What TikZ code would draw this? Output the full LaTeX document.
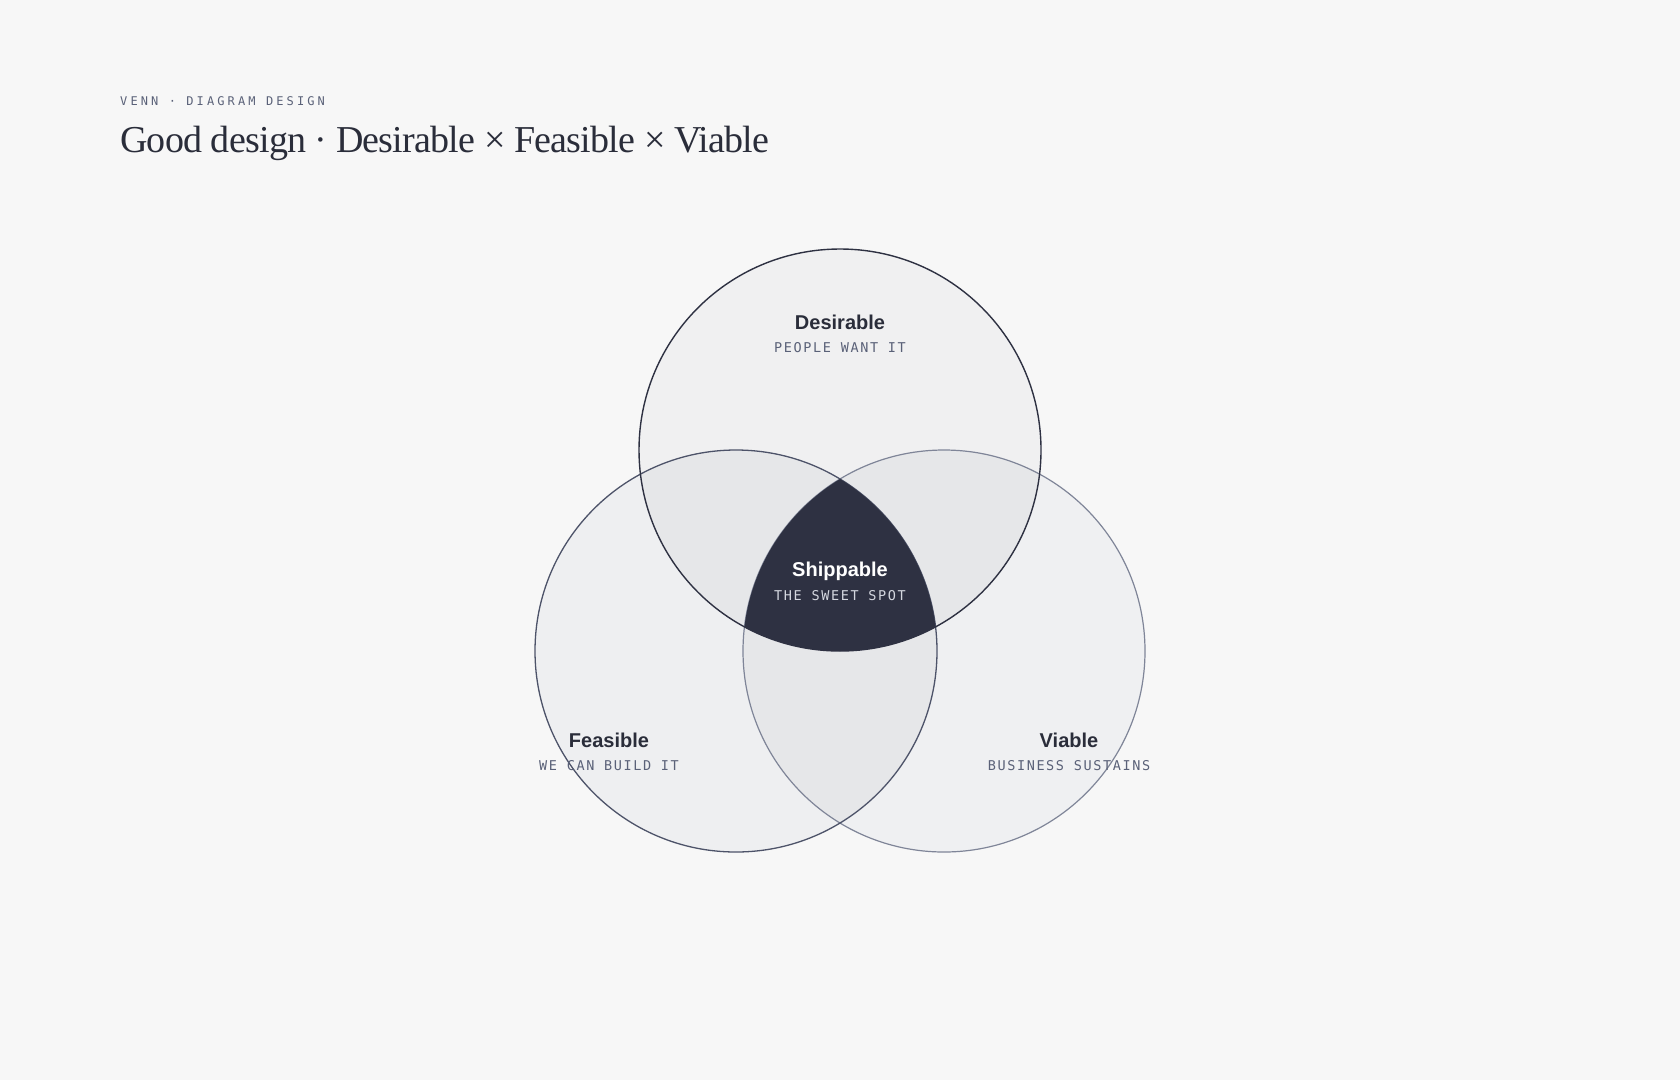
\documentclass[tikz,border=0pt]{standalone}
\usepackage{fontspec}
\setmainfont{Liberation Serif}
\newfontfamily\titlefont[LetterSpace=-2.1]{Liberation Serif}
\newfontfamily\sansb{Liberation Sans}
\newfontfamily\monoA[LetterSpace=12]{DejaVu Sans Mono}
\newfontfamily\monoB[LetterSpace=26]{DejaVu Sans Mono}
\definecolor{bg}{HTML}{F7F7F7}
\definecolor{ink}{HTML}{2A2D3A}
\definecolor{dark}{HTML}{2E3142}
\definecolor{muted}{HTML}{5A6178}
\definecolor{fillD}{HTML}{F0F0F1}
\definecolor{fillF}{HTML}{EEEFF1}
\definecolor{fillV}{HTML}{EFF0F2}
\definecolor{pair}{HTML}{E6E7E9}
\definecolor{strokeD}{HTML}{2E3142}
\definecolor{strokeF}{HTML}{4D5369}
\definecolor{strokeV}{HTML}{7F8598}
\definecolor{sweet}{HTML}{D4D7DF}
\tikzset{
  title/.style={inner sep=0pt, anchor=base west, text=ink, font=\titlefont\fontsize{38}{42}\selectfont},
  eyebrow/.style={inner sep=0pt, anchor=base west, text=muted, font=\monoB\fontsize{12}{14}\selectfont},
  setname/.style={inner sep=0pt, anchor=base, text=ink, font=\sansb\bfseries\fontsize{20}{24}\selectfont},
  setsub/.style={inner sep=0pt, anchor=base, text=muted, font=\monoA\fontsize{13.5}{16}\selectfont},
}
\begin{document}
\begin{tikzpicture}[x=1pt,y=-1pt]
\useasboundingbox (0,0) rectangle (1680,1080);
\fill[bg] (0,0) rectangle (1680,1080);
\def\R{201}
\coordinate (cD) at (840,450);
\coordinate (cF) at (736,651);
\coordinate (cV) at (944,651);
% base fills
\fill[fillF] (cF) circle (\R);
\fill[fillV] (cV) circle (\R);
\fill[fillD] (cD) circle (\R);
% pairwise overlaps
\begin{scope}\clip (cD) circle (\R); \fill[pair] (cF) circle (\R); \fill[pair] (cV) circle (\R); \end{scope}
\begin{scope}\clip (cF) circle (\R); \fill[pair] (cV) circle (\R); \end{scope}
% outlines
\draw[strokeV, line width=1.2pt] (cV) circle (\R);
\draw[strokeF, line width=1.3pt] (cF) circle (\R);
\draw[strokeD, line width=1.4pt] (cD) circle (\R);
% sweet spot
\begin{scope}\clip (cD) circle (\R); \clip (cF) circle (\R); \fill[dark] (cV) circle (\R); \end{scope}
% texts
\node[eyebrow] (eyebrow) at (120,105) {VENN · DIAGRAM DESIGN};
\node[title] (title) at (120,152) {Good design · Desirable × Feasible × Viable};
\node[setname] (desT) at (840,329) {Desirable};
\node[setsub] (desS) at (840,352.5) {PEOPLE WANT IT};
\node[setname] (feaT) at (609,747) {Feasible};
\node[setsub] (feaS) at (609,770) {WE CAN BUILD IT};
\node[setname] (viaT) at (1069,747) {Viable};
\node[setsub] (viaS) at (1069,770) {BUSINESS SUSTAINS};
\node[setname, text=white] (shipT) at (840,576) {Shippable};
\node[setsub, text=sweet] (shipS) at (840,600) {THE SWEET SPOT};
\end{tikzpicture}
\end{document}
